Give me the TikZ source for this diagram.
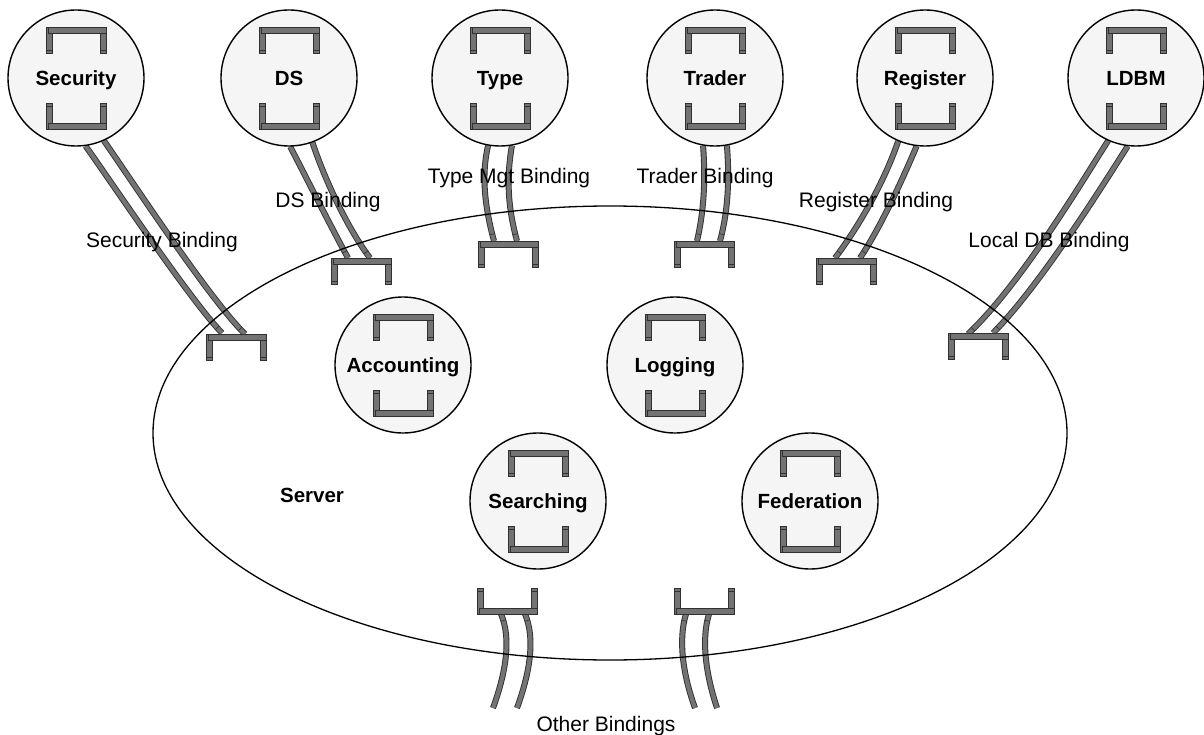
\documentclass[tikz,border=0pt]{standalone}
\usepackage{fontspec}
\setmainfont{Liberation Sans}
\usetikzlibrary{decorations.markings}
\pgfdeclarelayer{bg}
\pgfsetlayers{bg,main}
\definecolor{tubegray}{HTML}{737373}
\definecolor{edgegray}{HTML}{303030}
\definecolor{circfill}{HTML}{F5F5F5}
\tikzset{
  comp/.style={circle, draw=black, line width=1.4pt, fill=circfill, minimum size=136pt, inner sep=0pt,
    font=\fontsize{20.5}{24}\selectfont\bfseries, text height=14.7pt, text depth=0pt},
  blabel/.style={anchor=base, inner sep=0pt, font=\fontsize{21}{25}\selectfont},
  tube/.style={draw=tubegray, line width=4.2pt,
    preaction={draw=edgegray, line width=6pt},
    postaction={decorate},
    decoration={markings, mark=at position -7pt with {\draw[draw=edgegray, line width=0.6pt] (0pt,-2.6pt) -- (0pt,2.6pt);}}},
  brk/.style={draw=edgegray, line width=0.7pt, fill=tubegray},
  tipline/.style={draw=edgegray, line width=0.5pt},
  upbr/.pic={
    \draw[brk] (-30,0) rectangle (-24,26);
    \draw[brk] (24,1) rectangle (30,26);
    \draw[brk] (-28,0) rectangle (30,6);
    \draw[tipline] (-30,23) -- (-24,23);
    \draw[tipline] (24,23) -- (30,23);
  },
  dnbr/.pic={
    \draw[brk] (-30,0) rectangle (-24,-26);
    \draw[brk] (24,-1) rectangle (30,-26);
    \draw[brk] (-28,0) rectangle (30,-6);
    \draw[tipline] (-30,-23) -- (-24,-23);
    \draw[tipline] (24,-23) -- (30,-23);
  }
}
\begin{document}
\begin{tikzpicture}[x=1pt,y=-1pt]
\useasboundingbox (0,0) rectangle (1204,735);

% server ellipse
\draw[line width=1.3pt] (610,433) ellipse [x radius=457, y radius=227];

% components
\node[comp] (sec) at (76,78) {Security};
\node[comp] (ds) at (289,78) {DS};
\node[comp] (type) at (500,78) {Type};
\node[comp] (trader) at (715,78) {Trader};
\node[comp] (reg) at (925,78) {Register};
\node[comp] (ldbm) at (1136,78) {LDBM};
\node[comp] (acc) at (403,365) {Accounting};
\node[comp] (log) at (675,365) {Logging};
\node[comp] (srch) at (538,501) {Searching};
\node[comp] (fed) at (810,501) {Federation};

% brackets inside components
\foreach \cx/\cy in {76/78,289/78,500/78,715/78,925/78,1136/78,403/365,675/365,538/501,810/501}{
  \pic at (\cx,\cy-51) {upbr};
  \pic at (\cx,\cy+51) {dnbr};
}

% ports on the server
\pic at (236,334) {upbr};
\pic at (361,258) {upbr};
\pic at (508,241) {upbr};
\pic at (704,241) {upbr};
\pic at (846,258) {upbr};
\pic at (978,333) {upbr};
\pic at (507,614) {dnbr};
\pic at (704,614) {dnbr};

% tube end coordinates
\coordinate (secA) at (222,333); \coordinate (secB) at (245,334);
\coordinate (dsA) at (348,258); \coordinate (dsB) at (370,258);
\coordinate (typeA) at (494,241); \coordinate (typeB) at (517,241);
\coordinate (trA) at (697,241); \coordinate (trB) at (720,241);
\coordinate (regA) at (835,258); \coordinate (regB) at (860,258);
\coordinate (ldA) at (968,334); \coordinate (ldB) at (993,333);
\coordinate (blA) at (501,614); \coordinate (blB) at (525,614);
\coordinate (brA) at (686,614); \coordinate (brB) at (709,614);
\coordinate (oblA) at (493,708); \coordinate (oblB) at (517,708);
\coordinate (obrA) at (695,708); \coordinate (obrB) at (717,708);

\begin{pgfonlayer}{bg}
\draw[tube] (sec.-82) .. controls (110,180) and (190,300) .. (secA);
\draw[tube] (sec.-66) .. controls (130,178) and (210,300) .. (secB);
\draw[tube] (ds.-89) .. controls (305,175) and (330,225) .. (dsA);
\draw[tube] (ds.-70) .. controls (322,172) and (345,225) .. (dsB);
\draw[tube] (type.-100) .. controls (480,180) and (487,215) .. (typeA);
\draw[tube] (type.-80) .. controls (505,185) and (510,215) .. (typeB);
\draw[tube] (trader.-100) .. controls (706,185) and (703,215) .. (trA);
\draw[tube] (trader.-80) .. controls (730,185) and (727,215) .. (trB);
\draw[tube] (reg.-113) .. controls (885,180) and (860,225) .. (regA);
\draw[tube] (reg.-97) .. controls (900,185) and (880,228) .. (regB);
\draw[tube] (ldbm.-114) .. controls (1080,185) and (1020,285) .. (ldA);
\draw[tube] (ldbm.-97) .. controls (1100,190) and (1038,288) .. (ldB);
\draw[tube] (oblA) .. controls (505,675) and (512,640) .. (blA);
\draw[tube] (oblB) .. controls (529,675) and (536,640) .. (blB);
\draw[tube] (obrA) .. controls (683,675) and (678,640) .. (brA);
\draw[tube] (obrB) .. controls (706,675) and (701,640) .. (brB);
\end{pgfonlayer}

% labels
\node[blabel] (lsec) at (162,248) {Security Binding};
\node[blabel] (lds) at (328,208) {DS Binding};
\node[blabel] (ltype) at (509,184) {Type Mgt Binding};
\node[blabel] (ltr) at (705,184) {Trader Binding};
\node[blabel] (lreg) at (876,208) {Register Binding};
\node[blabel] (lld) at (1049,248) {Local DB Binding};
\node[blabel] (loth) at (606,731) {Other Bindings};
\node[blabel, font=\fontsize{20.5}{24}\selectfont\bfseries] (server) at (312,502) {Server};
\end{tikzpicture}
\end{document}
